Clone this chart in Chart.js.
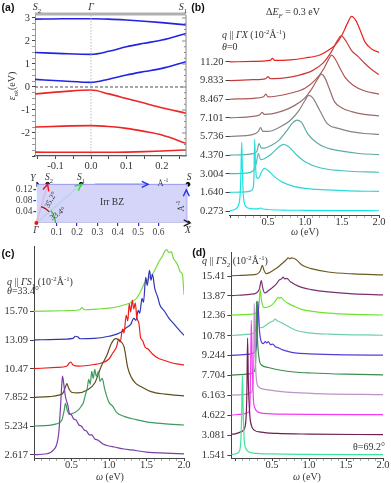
<!DOCTYPE html>
<html>
<head>
<meta charset="utf-8">
<script src="https://cdn.jsdelivr.net/npm/chart.js@4.4.1/dist/chart.umd.min.js"></script>
<style>
  html, body { margin: 0; padding: 0; background: #fff; }
  body { position: relative; width: 391px; height: 483px; overflow: hidden;
         font-family: "Liberation Serif", "DejaVu Serif", serif; color: #333; }
  canvas { position: absolute; }
  .t { position: absolute; white-space: nowrap; transform: translate(-50%, -50%); font-size: 10px; line-height: 1; }
  .l { position: absolute; white-space: nowrap; transform: translateY(-50%); font-size: 10px; line-height: 1; }
  .pl { font-family: "Liberation Sans", Arial, sans-serif; font-weight: bold; font-size: 10.5px; color: #111; }
  sub, sup { font-size: 68%; line-height: 0; }
</style>
</head>
<body>
<canvas id="bandChart" width="190" height="172" style="left:0px;top:0px"></canvas>
<canvas id="bzChart" width="196" height="75" style="left:0px;top:165px"></canvas>
<canvas id="gxChart" width="201" height="240" style="left:190px;top:0px"></canvas>
<canvas id="gs1Chart" width="192" height="247" style="left:0px;top:236px"></canvas>
<canvas id="gs2Chart" width="196" height="241" style="left:195px;top:242px"></canvas>

<!-- panel (a) -->
<div class="t pl" style="left:8px;top:7px">(a)</div>
<div class="t" style="left:37px;top:7px"><i>S</i><sub>2</sub></div>
<div class="t" style="left:91px;top:7px"><i>Γ</i></div>
<div class="t" style="left:183px;top:7px"><i>S</i><sub>1</sub></div>
<div class="t" style="left:12px;top:86px;transform:translate(-50%,-50%) rotate(-90deg)"><i>ε</i><sub><i>nk</i></sub>(eV)</div>
<div class="t" style="left:33px;top:179px;font-size:9.5px"><i>Y</i></div>
<div class="t" style="left:49px;top:178px;font-size:9.5px"><i>S</i><sub>2</sub></div>
<div class="t" style="left:81px;top:178px;font-size:9.5px"><i>S</i><sub>1</sub></div>
<div class="t" style="left:189px;top:178px;font-size:9.5px"><i>S</i></div>
<div class="t" style="left:163px;top:183px;font-size:8.5px">Å<sup>-1</sup></div>
<div class="t" style="left:112px;top:203px;font-size:9.5px">Irr BZ</div>
<div class="t" style="left:181px;top:206px;font-size:8.5px;transform:translate(-50%,-50%) rotate(-90deg)">Å<sup>-1</sup></div>
<div class="t" style="left:51px;top:200px;font-size:8px;transform:translate(-50%,-50%) rotate(-62deg)">35.2°</div>
<div class="t" style="left:58px;top:214px;font-size:8px;transform:translate(-50%,-50%) rotate(-35deg)">33.4°</div>
<div class="t" style="left:36px;top:231px;font-size:9.5px"><i>Γ</i></div>
<div class="t" style="left:188px;top:231px;font-size:9.5px"><i>X</i></div>

<!-- panel (b) -->
<div class="t pl" style="left:198px;top:7px">(b)</div>
<div class="t" style="left:293px;top:12px">Δ<i>E</i><sub><i>F</i></sub> = 0.3 eV</div>
<div class="l" style="left:222px;top:35px"><i>q</i> || <i>ΓX</i> (10<sup>-2</sup>Å<sup>-1</sup>)</div>
<div class="l" style="left:222px;top:47px"><i>θ</i>=0</div>
<div class="t" style="left:305px;top:232px"><i>ω</i> (eV)</div>

<!-- panel (c) -->
<div class="t pl" style="left:8px;top:253px">(c)</div>
<div class="l" style="left:7px;top:282px"><i>q</i> || <i>ΓS</i><sub>1</sub> (10<sup>-2</sup>Å<sup>-1</sup>)</div>
<div class="l" style="left:7px;top:291px"><i>θ</i>=33.4°</div>
<div class="t" style="left:110px;top:477px"><i>ω</i> (eV)</div>

<!-- panel (d) -->
<div class="t pl" style="left:199px;top:252px">(d)</div>
<div class="l" style="left:202px;top:261px"><i>q</i> || <i>ΓS</i><sub>2</sub> (10<sup>-2</sup>Å<sup>-1</sup>)</div>
<div class="t" style="left:369px;top:447px">θ=69.2°</div>
<div class="t" style="left:307px;top:477px"><i>ω</i> (eV)</div>

<script>
// ---------- (a) band structure along S2 - Γ - S1 ----------
const bandK = [-0.158, -0.079, 0, 0.05, 0.1, 0.15, 0.2, 0.268];
const condBand1 = [0.33, 0.26, 0.20, 0.34, 0.52, 0.67, 0.81, 1.10];
const condBand2 = [1.50, 1.45, 1.42, 1.55, 1.75, 1.90, 2.04, 2.33];
const condBand3 = [2.95, 2.97, 2.97, 2.95, 2.91, 2.86, 2.80, 2.70];
const valBand1 = [-0.30, -0.20, -0.13, -0.30, -0.50, -0.70, -0.90, -1.14];
const valBand2 = [-1.74, -1.70, -1.68, -1.72, -1.80, -1.93, -2.09, -2.45];
const valBand3 = [-2.83, -2.84, -2.84, -2.84, -2.83, -2.81, -2.78, -2.74];

// ---------- (a) irreducible Brillouin zone (Å^-1) ----------
const bzCornerKx = [0, 0.055, 0.22, 0.745, 0.745];   // Y, S2, S1, S, X
const bzCornerKy = [0.138, 0.138, 0.138, 0.138, 0];
const bzArrowTop = [[0.287, 0.138], [0.549, 0.138]];
const bzArrowSide = [[0.737, 0.004], [0.737, 0.118]];
const bzArrowAxis = [[0, 0], [0.755, 0]];

// ---------- (b) q || ΓX ----------
const qGX = [0.273, 1.640, 3.004, 4.370, 5.736, 7.101, 8.467, 9.833, 11.20];
const qGXLabels = ['0.273', '1.640', '3.004', '4.370', '5.736', '7.101', '8.467', '9.833', '11.20'];
const lossGX0273 = [[-0.02,0.01],[0.05,0.11],[0.09,0.29],[0.11,0.59],[0.125,1.32],[0.135,2.93],[0.145,5.04],[0.155,2.93],[0.165,1.32],[0.18,0.59],[0.21,0.29],[0.26,0.18],[0.32,0.15],[0.38,0.18],[0.40,0.22],[0.43,0.15],[0.5,0.11],[0.7,0.07],[1.0,0.05],[1.5,0.03],[2.0,0.02]];
const lossGX1640 = [[-0.02,0],[0.2,0.04],[0.27,0.11],[0.3,0.37],[0.31,1.10],[0.32,3.89],[0.33,2.20],[0.345,1.10],[0.37,1.03],[0.41,1.47],[0.45,1.76],[0.5,1.61],[0.6,1.10],[0.7,0.73],[0.85,0.44],[1.0,0.29],[1.3,0.18],[1.6,0.11],[2.0,0.07]];
const lossGX3004 = [[-0.02,0],[0.2,0.04],[0.3,0.22],[0.34,0.73],[0.37,1.47],[0.4,1.03],[0.45,1.10],[0.55,1.47],[0.65,1.98],[0.71,2.16],[0.78,1.98],[0.9,1.32],[1.0,0.88],[1.2,0.44],[1.5,0.22],[2.0,0.11]];
const lossGX4370 = [[-0.02,0],[0.3,0.11],[0.35,0.29],[0.38,0.84],[0.41,0.51],[0.45,0.51],[0.55,0.73],[0.65,1.10],[0.75,1.76],[0.83,2.35],[0.89,2.57],[0.95,2.42],[1.04,1.54],[1.15,0.95],[1.28,0.56],[1.5,0.29],[1.73,0.12],[2.0,0.04]];
const lossGX5736 = [[-0.02,0],[0.3,0.15],[0.37,0.37],[0.40,0.66],[0.43,0.37],[0.5,0.37],[0.65,0.66],[0.8,1.17],[0.92,1.91],[1.0,2.64],[1.05,3.01],[1.1,2.86],[1.2,1.91],[1.3,0.95],[1.45,0.59],[1.6,0.37],[1.8,0.22],[2.0,0.15]];
const lossGX7101 = [[-0.02,0],[0.3,0.11],[0.39,0.22],[0.42,0.40],[0.45,0.26],[0.55,0.29],[0.7,0.51],[0.85,0.88],[1.0,1.47],[1.1,2.20],[1.18,2.93],[1.22,3.20],[1.27,2.93],[1.32,2.27],[1.4,1.17],[1.5,0.73],[1.63,0.46],[1.8,0.26],[2.0,0.15]];
const lossGX8467 = [[-0.02,0],[0.3,0.07],[0.44,0.18],[0.47,0.37],[0.5,0.18],[0.6,0.22],[0.8,0.44],[1.0,0.81],[1.15,1.47],[1.25,2.20],[1.32,2.93],[1.36,3.23],[1.41,2.93],[1.48,2.20],[1.55,1.54],[1.65,1.03],[1.8,0.62],[2.0,0.37]];
const lossGX9833 = [[-0.02,0],[0.3,0.07],[0.47,0.15],[0.50,0.29],[0.53,0.15],[0.7,0.18],[0.9,0.37],[1.1,0.73],[1.25,1.32],[1.35,2.05],[1.43,2.86],[1.49,3.28],[1.55,2.93],[1.63,2.20],[1.72,1.76],[1.81,1.25],[1.9,0.81],[2.0,0.44]];
const lossGX1120 = [[-0.02,0],[0.3,0.04],[0.53,0.11],[0.56,0.26],[0.59,0.11],[0.8,0.15],[1.0,0.29],[1.2,0.51],[1.3,0.81],[1.41,1.25],[1.5,1.98],[1.57,2.79],[1.63,3.34],[1.69,3.01],[1.75,2.27],[1.81,1.47],[1.9,0.95],[2.0,0.70]];

// ---------- (c) q || ΓS1 ----------
const qGS1 = [2.617, 5.234, 7.852, 10.47, 13.09, 15.70];
const qGS1Labels = ['2.617', '5.234', '7.852', '10.47', '13.09', '15.70'];
const lossGS1_2617 = [[0,0.03],[0.15,0.09],[0.22,0.23],[0.26,0.46],[0.3,0.91],[0.33,2.01],[0.355,4.57],[0.37,6.39],[0.38,7.21],[0.395,6.58],[0.42,5.30],[0.45,4.57],[0.47,3.84],[0.5,3.65],[0.53,3.29],[0.56,3.20],[0.6,2.74],[0.63,2.65],[0.67,2.28],[0.7,2.19],[0.74,1.83],[0.77,1.83],[0.81,1.46],[0.85,1.37],[0.92,1.00],[1.0,0.82],[1.07,0.73],[1.2,0.55],[1.3,0.46],[1.5,0.27],[1.75,0.18],[2.0,0.11]];
const lossGS1_5234 = [[0,0.03],[0.2,0.09],[0.3,0.23],[0.37,0.55],[0.4,1.37],[0.42,2.10],[0.44,1.55],[0.47,1.10],[0.5,1.14],[0.55,1.28],[0.6,1.55],[0.63,1.83],[0.66,2.19],[0.69,3.01],[0.71,3.47],[0.73,4.29],[0.75,3.84],[0.77,5.02],[0.79,4.38],[0.81,5.21],[0.83,4.57],[0.86,5.02],[0.88,4.11],[0.91,4.38],[0.94,3.47],[0.97,2.74],[1.0,2.19],[1.05,1.83],[1.1,1.28],[1.2,0.91],[1.36,0.61],[1.5,0.41],[1.72,0.25],[2.0,0.12]];
const lossGS1_7852 = [[0,0.03],[0.2,0.09],[0.33,0.23],[0.39,0.46],[0.42,1.00],[0.44,1.28],[0.46,0.91],[0.5,0.50],[0.58,0.43],[0.71,0.70],[0.81,1.34],[0.9,2.92],[0.97,3.84],[1.03,4.93],[1.09,5.39],[1.14,5.21],[1.2,4.66],[1.25,2.74],[1.3,1.83],[1.36,1.28],[1.43,1.00],[1.56,0.55],[1.75,0.32],[2.0,0.16]];
const lossGS1_1047 = [[0,0.03],[0.3,0.14],[0.44,0.27],[0.47,0.55],[0.49,0.64],[0.52,0.37],[0.6,0.27],[0.8,0.41],[0.9,0.55],[1.0,0.91],[1.05,1.46],[1.1,2.01],[1.13,2.74],[1.15,2.47],[1.18,3.65],[1.2,3.29],[1.23,4.93],[1.25,4.38],[1.27,5.94],[1.29,5.21],[1.31,6.30],[1.33,5.48],[1.35,6.03],[1.37,4.75],[1.4,4.11],[1.42,2.92],[1.45,2.56],[1.48,2.01],[1.52,1.83],[1.58,1.37],[1.65,1.00],[1.72,0.82],[1.8,0.64],[1.9,0.46],[2.0,0.37]];
const lossGS1_1309 = [[0,0.03],[0.3,0.09],[0.52,0.18],[0.55,0.37],[0.58,0.32],[0.62,0.14],[0.8,0.18],[1.0,0.37],[1.16,0.73],[1.22,1.10],[1.29,1.46],[1.33,2.01],[1.36,1.83],[1.39,2.74],[1.41,2.47],[1.44,3.84],[1.46,3.47],[1.49,5.75],[1.51,5.02],[1.54,6.39],[1.56,5.48],[1.58,6.03],[1.61,4.75],[1.65,3.93],[1.68,3.20],[1.74,2.65],[1.8,2.01],[1.87,1.46],[1.94,0.91],[2.0,0.46]];
const lossGS1_1570 = [[0,0.03],[0.4,0.09],[0.61,0.18],[0.64,0.37],[0.67,0.18],[0.9,0.27],[1.0,0.32],[1.2,0.61],[1.35,1.10],[1.42,1.83],[1.47,2.56],[1.52,2.92],[1.56,3.29],[1.6,3.65],[1.64,4.20],[1.68,4.75],[1.71,5.02],[1.74,5.48],[1.77,5.66],[1.8,5.39],[1.83,5.48],[1.86,4.84],[1.89,4.57],[1.92,4.20],[1.95,3.65],[1.98,3.38],[2.0,1.55]];

// ---------- (d) q || ΓS2 ----------
const qGS2 = [1.541, 3.081, 4.622, 6.163, 7.704, 9.244, 10.78, 12.36, 13.87, 15.41];
const qGS2Labels = ['1.541', '3.081', '4.622', '6.163', '7.704', '9.244', '10.78', '12.36', '13.87', '15.41'];
const lossGS2_1541 = [[-0.05,0.04],[0,0.08],[0.05,0.23],[0.075,0.78],[0.09,3.10],[0.1,6.20],[0.11,3.49],[0.125,1.16],[0.15,0.47],[0.19,0.23],[0.3,0.12],[0.5,0.08],[1.0,0.05],[2.0,0.03]];
const lossGS2_3081 = [[-0.05,0.06],[0,0.10],[0.1,0.31],[0.14,0.78],[0.16,3.10],[0.17,7.52],[0.18,4.26],[0.2,1.55],[0.22,0.78],[0.26,0.39],[0.35,0.23],[0.57,0.13],[1.0,0.08],[2.0,0.04]];
const lossGS2_4622 = [[-0.05,0.02],[0.1,0.08],[0.18,0.23],[0.2,0.62],[0.21,3.10],[0.22,7.36],[0.235,3.49],[0.25,1.16],[0.27,0.54],[0.34,0.19],[0.6,0.09],[1.0,0.06],[2.0,0.04]];
const lossGS2_6163 = [[-0.05,0.02],[0.15,0.08],[0.22,0.23],[0.245,0.93],[0.255,3.88],[0.26,7.13],[0.27,3.88],[0.285,1.55],[0.31,0.72],[0.4,0.47],[0.6,0.31],[0.81,0.21],[1.2,0.12],[2.0,0.05]];
const lossGS2_7704 = [[-0.05,0.02],[0.2,0.12],[0.26,0.31],[0.28,1.16],[0.29,5.74],[0.305,2.71],[0.33,1.16],[0.355,0.83],[0.45,0.62],[0.58,0.44],[0.8,0.27],[1.03,0.19],[1.5,0.10],[2.0,0.05]];
const lossGS2_9244 = [[-0.05,0.02],[0.2,0.12],[0.27,0.31],[0.295,1.16],[0.31,4.19],[0.325,2.33],[0.35,1.16],[0.38,0.93],[0.41,1.09],[0.43,0.97],[0.45,1.09],[0.48,0.85],[0.51,0.89],[0.55,0.66],[0.58,0.62],[0.63,0.47],[0.7,0.35],[0.81,0.21],[1.0,0.14],[1.5,0.06],[2.0,0.03]];
const lossGS2_1078 = [[-0.05,0.02],[0.2,0.12],[0.27,0.31],[0.29,0.93],[0.305,2.71],[0.32,1.40],[0.34,0.62],[0.38,0.66],[0.44,0.91],[0.49,1.09],[0.52,1.16],[0.54,1.29],[0.57,1.16],[0.6,1.09],[0.66,0.91],[0.75,0.62],[0.84,0.39],[1.0,0.23],[1.26,0.13],[2.0,0.04]];
const lossGS2_1236 = [[-0.05,0.02],[0.2,0.08],[0.3,0.23],[0.325,0.78],[0.34,1.99],[0.36,1.09],[0.4,0.60],[0.47,0.70],[0.52,0.93],[0.56,1.24],[0.58,1.40],[0.6,1.32],[0.62,1.40],[0.66,1.16],[0.72,0.93],[0.8,0.70],[0.9,0.47],[1.05,0.31],[1.26,0.18],[1.6,0.08],[2.0,0.03]];
const lossGS2_1387 = [[-0.05,0.02],[0.2,0.12],[0.29,0.23],[0.33,0.54],[0.355,1.19],[0.375,0.62],[0.40,0.23],[0.45,0.39],[0.5,0.62],[0.56,0.93],[0.6,1.24],[0.63,1.32],[0.65,1.45],[0.67,1.32],[0.7,1.36],[0.75,1.09],[0.81,0.88],[0.9,0.66],[1.03,0.49],[1.26,0.31],[1.6,0.16],[2.0,0.08]];
const lossGS2_1541b = [[-0.05,0.02],[0.2,0.08],[0.3,0.16],[0.34,0.39],[0.37,0.83],[0.39,0.47],[0.42,0.18],[0.48,0.31],[0.55,0.57],[0.6,0.78],[0.65,1.03],[0.69,1.24],[0.72,1.40],[0.74,1.32],[0.76,1.40],[0.82,1.29],[0.91,0.83],[1.03,0.57],[1.26,0.31],[1.6,0.16],[2.0,0.08]];

// ---------- styles ----------
const colorsGX = ['#19e3e3', '#2ed8d8', '#45c2c2', '#5fa9a9', '#858585', '#9c6a6a', '#b05454', '#c83c3c', '#ec2020'];
const colorsGS1 = ['#7b3fa6', '#3f9a5e', '#5e4f1c', '#f01c1c', '#2f36b0', '#77dc3c'];
const colorsGS2 = ['#3fe39b', '#6e1f52', '#f53cf5', '#bb95c6', '#3c8c4c', '#5b3bd8', '#70cfa9', '#6fe32a', '#7c2f6e', '#6b5b22'];
const bandBlue = '#2323e6';
const bandRed = '#ee2525';
const ink = '#444';
const tickFont = { family: 'Liberation Serif', size: 10.5 };

function line(ctx, x1, y1, x2, y2) {
  ctx.beginPath(); ctx.moveTo(x1, y1); ctx.lineTo(x2, y2); ctx.stroke();
}

function arrowHead(ctx, x1, y1, x2, y2, color, size) {
  const a = Math.atan2(y2 - y1, x2 - x1);
  ctx.save();
  ctx.strokeStyle = color; ctx.lineWidth = 1.4; ctx.setLineDash([]);
  ctx.beginPath();
  ctx.moveTo(x2 - size * Math.cos(a - 0.45), y2 - size * Math.sin(a - 0.45));
  ctx.lineTo(x2, y2);
  ctx.lineTo(x2 - size * Math.cos(a + 0.45), y2 - size * Math.sin(a + 0.45));
  ctx.stroke();
  ctx.restore();
}

// fixed axis size so that plot areas line up with the figure
function fixWidth(w) {
  return s => { s.width = w; s.paddingTop = 0; s.paddingBottom = 0; };
}
function fixHeight(h) {
  return s => { s.height = h; s.paddingLeft = 0; s.paddingRight = 0; };
}

function omegaScale(min, h) {
  return {
    type: 'linear', min: min, max: 2.0,
    afterBuildTicks: s => {
      const t = [];
      for (let i = 0; i <= 20; i++) t.push({ value: i / 10 });
      s.ticks = t;
    },
    afterFit: fixHeight(h),
    ticks: {
      font: tickFont, color: '#333', padding: -2, autoSkip: false, maxRotation: 0,
      callback: v => {
        const k = Math.round(v * 10);
        return (k > 0 && k % 5 === 0) ? (k / 10).toFixed(1) : '';
      }
    },
    grid: {
      drawOnChartArea: false, tickLength: 3,
      color: c => (c.tick && Math.round(c.tick.value * 10) % 5 === 0) ? ink : '#888',
      lineWidth: c => (c.tick && Math.round(c.tick.value * 10) % 5 === 0) ? 1 : 0.7
    },
    border: { display: true, color: ink, width: 1 }
  };
}

function qScale(values, labels, min, max, w, showBorder) {
  return {
    type: 'linear', min: min, max: max,
    afterBuildTicks: s => { s.ticks = values.map(v => ({ value: v })); },
    afterFit: fixWidth(w),
    ticks: { font: tickFont, color: '#333', padding: 2, autoSkip: false, callback: (v, i) => labels[i] },
    grid: { drawOnChartArea: false, tickLength: 4, color: ink },
    border: { display: showBorder, color: ink, width: 1 }
  };
}

function spectrumSets(q, curves, colors) {
  return curves.map((pts, i) => ({
    data: pts.map(p => ({ x: p[0], y: q[i] + p[1] })),
    showLine: true,
    borderColor: colors[i],
    borderWidth: 1.2,
    pointRadius: 0,
    cubicInterpolationMode: 'monotone',
    fill: false
  }));
}

function spectrumChart(id, q, labels, curves, colors, xMin, yMin, yMax, yw, xh, padTop, padRight, showBorder) {
  new Chart(document.getElementById(id), {
    type: 'scatter',
    data: { datasets: spectrumSets(q, curves, colors) },
    options: {
      responsive: false, animation: false, events: [],
      layout: { padding: { top: padTop, right: padRight, left: 0, bottom: 0 } },
      plugins: { legend: { display: false }, tooltip: { enabled: false } },
      scales: {
        x: omegaScale(xMin, xh),
        y: qScale(q, labels, yMin, yMax, yw, showBorder)
      }
    }
  });
}

// ---------- (a) bands ----------
const bandSets = [
  [condBand3, bandBlue], [condBand2, bandBlue], [condBand1, bandBlue],
  [valBand1, bandRed], [valBand2, bandRed], [valBand3, bandRed]
].map(([e, c]) => ({
  data: bandK.map((k, i) => ({ x: k, y: e[i] })),
  showLine: true, borderColor: c, borderWidth: 1.6, pointRadius: 0,
  cubicInterpolationMode: 'monotone', fill: false
}));

const bandExtras = {
  id: 'bandExtras',
  afterDatasetsDraw(chart) {
    const { ctx, chartArea: a, scales: { x, y } } = chart;
    ctx.save();
    ctx.lineWidth = 0.8; ctx.strokeStyle = '#222'; ctx.setLineDash([3, 2]);
    const y0 = y.getPixelForValue(0);
    line(ctx, a.left, y0, a.right, y0);
    ctx.strokeStyle = '#aaa'; ctx.setLineDash([1.5, 1.5]);
    const xg = x.getPixelForValue(0);
    line(ctx, xg, a.top, xg, a.bottom);
    ctx.setLineDash([]); ctx.strokeStyle = '#888'; ctx.lineWidth = 1;
    line(ctx, a.right, a.top, a.right, a.bottom);
    for (let v = -3; v <= 3; v += 0.25) {
      const py = y.getPixelForValue(v);
      line(ctx, a.right - (Number.isInteger(v) ? 4 : 2), py, a.right, py);
    }
    ctx.strokeStyle = '#b0b0b0'; ctx.lineWidth = 3;
    line(ctx, a.left, a.top - 1, a.right, a.top - 1);
    ctx.restore();
  }
};

new Chart(document.getElementById('bandChart'), {
  type: 'scatter',
  data: { datasets: bandSets },
  plugins: [bandExtras],
  options: {
    responsive: false, animation: false, events: [],
    layout: { padding: { top: 15, right: 4, left: 0, bottom: 0 } },
    plugins: { legend: { display: false }, tooltip: { enabled: false } },
    scales: {
      x: {
        type: 'linear', min: -0.158, max: 0.268,
        afterBuildTicks: s => {
          const t = [];
          for (let i = -3; i <= 5; i++) t.push({ value: i * 0.05 });
          s.ticks = t;
        },
        afterFit: fixHeight(16),
        ticks: {
          font: tickFont, color: '#333', padding: 1, autoSkip: false, maxRotation: 0,
          callback: v => {
            const k = Math.round(v * 20);
            return k % 2 === 0 ? (k / 20).toFixed(1) : '';
          }
        },
        grid: { drawOnChartArea: false, tickLength: 3, color: ink },
        border: { display: true, color: '#555', width: 1.2 }
      },
      y: {
        type: 'linear', min: -3.0, max: 3.13,
        afterBuildTicks: s => {
          const t = [];
          for (let i = -12; i <= 12; i++) t.push({ value: i / 4 });
          s.ticks = t;
        },
        afterFit: fixWidth(35),
        ticks: {
          font: tickFont, color: '#333', padding: 2, autoSkip: false,
          callback: v => (Number.isInteger(v) && v > -3) ? String(v) : ''
        },
        grid: { drawOnChartArea: false, tickLength: 3, color: c => (c.tick && Number.isInteger(c.tick.value)) ? ink : '#999' },
        border: { display: true, color: '#999', width: 1, dash: [1.5, 1.5] }
      }
    }
  }
});

// ---------- (a) Brillouin zone ----------
const bzSets = [
  { // irreducible zone
    data: [{ x: 0, y: bzCornerKy[0] }, { x: bzCornerKx[3], y: bzCornerKy[3] }],
    showLine: true, borderColor: '#9a9af0', borderWidth: 1, pointRadius: 0,
    fill: 'origin', backgroundColor: 'rgba(208,208,250,0.9)'
  },
  { data: bzArrowAxis.map(p => ({ x: p[0], y: p[1] })), showLine: true, borderColor: '#222', borderWidth: 1.6, pointRadius: 0, arrowHead: '#222' },
  { data: bzArrowTop.map(p => ({ x: p[0], y: p[1] })), showLine: true, borderColor: '#2233ee', borderWidth: 1.3, pointRadius: 0, arrowHead: '#2233ee' },
  { data: bzArrowSide.map(p => ({ x: p[0], y: p[1] })), showLine: true, borderColor: '#2233ee', borderWidth: 1.3, pointRadius: 0, arrowHead: '#2233ee' },
  { data: [{ x: 0, y: 0 }, { x: bzCornerKx[2], y: bzCornerKy[2] }], showLine: true, borderColor: '#22e022', borderWidth: 1.6, pointRadius: 0, arrowHead: '#22e022' },
  { data: [{ x: 0, y: 0 }, { x: bzCornerKx[1], y: bzCornerKy[1] }], showLine: true, borderColor: '#ee1111', borderWidth: 1.6, pointRadius: 0, arrowHead: '#ee1111' },
  { data: bzCornerKx.map((k, i) => ({ x: k, y: bzCornerKy[i] })), showLine: false, pointRadius: 2, backgroundColor: '#111', borderColor: '#111' }
];

const bzExtras = {
  id: 'bzExtras',
  afterDatasetsDraw(chart) {
    const { ctx } = chart;
    chart.data.datasets.forEach((ds, i) => {
      if (!ds.arrowHead) return;
      const pts = chart.getDatasetMeta(i).data;
      const p = pts[pts.length - 2], q = pts[pts.length - 1];
      arrowHead(ctx, p.x, p.y, q.x, q.y, ds.arrowHead, 7);
    });
    const g = chart.getDatasetMeta(4).data[0];
    const s1 = chart.getDatasetMeta(4).data[1];
    const s2 = chart.getDatasetMeta(5).data[1];
    const a1 = Math.atan2(s1.y - g.y, s1.x - g.x);
    const a2 = Math.atan2(s2.y - g.y, s2.x - g.x);
    ctx.save();
    ctx.lineWidth = 1.2;
    ctx.strokeStyle = '#22c022';
    ctx.beginPath(); ctx.arc(g.x, g.y, 19, a1, 0); ctx.stroke();
    ctx.strokeStyle = '#aa1111';
    ctx.beginPath(); ctx.arc(g.x, g.y, 17, a2, a1); ctx.stroke();
    ctx.fillStyle = '#ee1111';
    ctx.beginPath(); ctx.arc(g.x, g.y, 2, 0, 2 * Math.PI); ctx.fill();
    ctx.restore();
  }
};

new Chart(document.getElementById('bzChart'), {
  type: 'scatter',
  data: { datasets: bzSets },
  plugins: [bzExtras],
  options: {
    responsive: false, animation: false, events: [],
    layout: { padding: { top: 14.6, right: 4.6, left: 0, bottom: 0 } },
    plugins: { legend: { display: false }, tooltip: { enabled: false } },
    scales: {
      x: {
        type: 'linear', min: 0, max: 0.76,
        afterBuildTicks: s => { s.ticks = [0.1, 0.2, 0.3, 0.4, 0.5, 0.6].map(v => ({ value: v })); },
        afterFit: fixHeight(17),
        ticks: { font: { family: 'Liberation Serif', size: 9.5 }, color: '#444', padding: 1, autoSkip: false, maxRotation: 0, callback: v => v.toFixed(1) },
        grid: { drawOnChartArea: false, tickLength: 3, color: '#2233ee', lineWidth: 1.2 },
        border: { display: false }
      },
      y: {
        type: 'linear', min: 0, max: 0.155,
        afterBuildTicks: s => { s.ticks = [0.04, 0.08, 0.12].map(v => ({ value: v })); },
        afterFit: fixWidth(36.4),
        ticks: { font: { family: 'Liberation Serif', size: 9.5 }, color: '#444', padding: 1, autoSkip: false, callback: v => v.toFixed(2) },
        grid: { drawOnChartArea: false, tickLength: 3, color: '#2233ee', lineWidth: 1.2 },
        border: { display: false }
      }
    }
  }
});

// ---------- (b), (c), (d) loss spectra ----------
spectrumChart('gxChart', qGX, qGXLabels,
  [lossGX0273, lossGX1640, lossGX3004, lossGX4370, lossGX5736, lossGX7101, lossGX8467, lossGX9833, lossGX1120],
  colorsGX, -0.02, -0.02, 14.716, 39.5, 25, 14, 12, false);

spectrumChart('gs1Chart', qGS1, qGS1Labels,
  [lossGS1_2617, lossGS1_5234, lossGS1_7852, lossGS1_1047, lossGS1_1309, lossGS1_1570],
  colorsGS1, 0, 2.343, 21.70, 34, 25, 10, 8, true);

spectrumChart('gs2Chart', qGS2, qGS2Labels,
  [lossGS2_1541, lossGS2_3081, lossGS2_4622, lossGS2_6163, lossGS2_7704, lossGS2_9244, lossGS2_1078, lossGS2_1236, lossGS2_1387, lossGS2_1541b],
  colorsGS2, -0.05, 1.309, 17.27, 36.3, 25, 10, 8, true);
</script>
</body>
</html>
